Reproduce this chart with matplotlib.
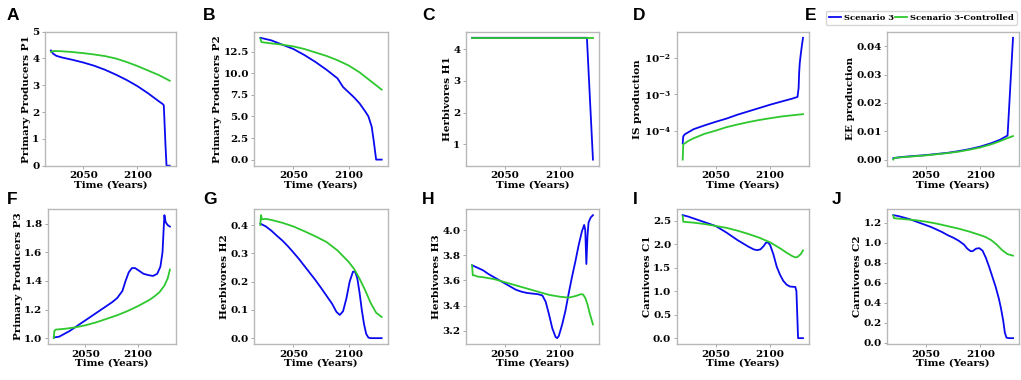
import matplotlib
matplotlib.use("Agg")
from matplotlib import pyplot as plt

plt.rcParams['font.family'] = 'DejaVu Serif'
plt.rcParams['font.weight'] = 'bold'
plt.rcParams['mathtext.fontset'] = 'dejavuserif'

# ---- data (years, values) ----
# A: Primary Producers P1
a_blue_t = [2020, 2022, 2025, 2030, 2040, 2050, 2060, 2070, 2080, 2090, 2100, 2110, 2115, 2120, 2123.5, 2124.5, 2126, 2127, 2130]
a_blue_v = [4.3, 4.18, 4.1, 4.04, 3.95, 3.85, 3.73, 3.58, 3.4, 3.2, 2.97, 2.7, 2.55, 2.4, 2.3, 2.25, 0.8, 0.0, 0.0]
a_green_t = [2020, 2023, 2030, 2040, 2050, 2060, 2070, 2080, 2090, 2100, 2110, 2120, 2130]
a_green_v = [4.25, 4.28, 4.27, 4.24, 4.2, 4.15, 4.09, 4.0, 3.87, 3.72, 3.55, 3.38, 3.17]

# B: Primary Producers P2
b_blue_t = [2020, 2030, 2040, 2050, 2060, 2070, 2080, 2090, 2095, 2100, 2105, 2110, 2115, 2118, 2121, 2123, 2125, 2130]
b_blue_v = [14.1, 13.8, 13.3, 12.8, 12.1, 11.3, 10.4, 9.4, 8.4, 7.8, 7.2, 6.5, 5.6, 5.0, 3.8, 2.0, 0.0, 0.0]
b_green_t = [2020, 2021, 2030, 2040, 2050, 2060, 2070, 2080, 2090, 2100, 2110, 2115, 2120, 2125, 2130]
b_green_v = [14.0, 13.6, 13.45, 13.3, 13.1, 12.8, 12.4, 12.0, 11.5, 10.9, 10.1, 9.6, 9.1, 8.6, 8.1]

# C: Herbivores H1
c_blue_t = [2020, 2124.5, 2130]
c_blue_v = [4.36, 4.36, 0.52]
c_green_t = [2020, 2130]
c_green_v = [4.36, 4.36]

# D: IS production (log)
d_blue_t = [2020, 2020.5, 2022, 2030, 2040, 2050, 2060, 2070, 2080, 2090, 2100, 2110, 2120, 2125, 2126, 2126.5, 2127, 2128, 2129, 2130]
d_blue_v = [4.5e-5, 7.0e-5, 8.0e-5, 1.1e-4, 1.4e-4, 1.75e-4, 2.15e-4, 2.75e-4, 3.4e-4, 4.2e-4, 5.2e-4, 6.3e-4, 7.6e-4, 8.5e-4,
            1.5e-3, 4e-3, 7e-3, 1.3e-2, 2.2e-2, 3.6e-2]
d_green_t = [2020, 2020.5, 2025, 2030, 2040, 2050, 2060, 2070, 2080, 2090, 2100, 2110, 2120, 2130]
d_green_v = [1.6e-5, 4.2e-5, 5.2e-5, 6.2e-5, 8.2e-5, 1.0e-4, 1.25e-4, 1.48e-4, 1.72e-4, 1.97e-4, 2.2e-4, 2.45e-4, 2.65e-4, 2.85e-4]

# E: EE production
e_blue_t = [2020, 2025, 2030, 2040, 2050, 2060, 2070, 2080, 2090, 2100, 2110, 2118, 2125, 2130]
e_blue_v = [0.0005, 0.0008, 0.001, 0.0013, 0.0016, 0.002, 0.0024, 0.003, 0.0037, 0.0046, 0.0058, 0.007, 0.0085, 0.043]
e_green_t = [2020, 2021, 2030, 2040, 2050, 2060, 2070, 2080, 2090, 2100, 2110, 2118, 2125, 2130]
e_green_v = [0.0, 0.0006, 0.0009, 0.0012, 0.0015, 0.0019, 0.0023, 0.0028, 0.0035, 0.0043, 0.0054, 0.0065, 0.0076, 0.0083]

# F: Primary Producers P3
f_blue_t = [2020, 2025, 2030, 2035, 2040, 2045, 2050, 2055, 2060, 2065, 2070, 2075, 2080, 2085, 2088, 2091, 2094, 2097,
            2100, 2105, 2110, 2114, 2118, 2121, 2123, 2124, 2124.8, 2126, 2128, 2130]
f_blue_v = [1.005, 1.01, 1.03, 1.05, 1.075, 1.1, 1.125, 1.15, 1.175, 1.2, 1.225, 1.25, 1.28, 1.33, 1.4, 1.46, 1.49, 1.49,
            1.475, 1.45, 1.44, 1.435, 1.45, 1.5, 1.6, 1.75, 1.86, 1.81, 1.79, 1.78]
f_green_t = [2020, 2020.5, 2022, 2030, 2040, 2050, 2060, 2070, 2080, 2090, 2100, 2110, 2115, 2120, 2125, 2128, 2130]
f_green_v = [1.0, 1.05, 1.06, 1.065, 1.075, 1.09, 1.11, 1.135, 1.16, 1.19, 1.225, 1.265, 1.29, 1.32, 1.37, 1.42, 1.48]

# G: Herbivores H2
g_blue_t = [2020, 2025, 2030, 2035, 2040, 2045, 2050, 2055, 2060, 2065, 2070, 2075, 2080, 2085, 2089, 2092, 2095, 2098,
            2101, 2104, 2106, 2108, 2110, 2112, 2114, 2116, 2118, 2120, 2130]
g_blue_v = [0.405, 0.395, 0.38, 0.362, 0.345, 0.325, 0.303, 0.28, 0.255, 0.23, 0.205, 0.178, 0.15, 0.122, 0.093, 0.082,
            0.095, 0.14, 0.2, 0.235, 0.235, 0.21, 0.16, 0.1, 0.05, 0.015, 0.002, 0.0, 0.0]
g_green_t = [2020, 2020.5, 2021.5, 2025, 2030, 2040, 2050, 2060, 2070, 2080, 2090, 2100, 2105, 2110, 2115, 2120, 2125, 2130]
g_green_v = [0.40, 0.435, 0.42, 0.422, 0.418, 0.408, 0.395, 0.378, 0.36, 0.34, 0.31, 0.27, 0.245, 0.21, 0.17, 0.125, 0.09, 0.075]

# H: Herbivores H3
h_blue_t = [2020, 2025, 2030, 2035, 2040, 2045, 2050, 2055, 2060, 2065, 2070, 2075, 2080, 2084, 2087, 2090, 2093, 2096,
            2097.5, 2099, 2102, 2105, 2108, 2111, 2114, 2117, 2120, 2122, 2123, 2124, 2125, 2126, 2128, 2130]
h_blue_v = [3.72, 3.70, 3.68, 3.65, 3.625, 3.60, 3.575, 3.55, 3.525, 3.51, 3.50, 3.495, 3.49, 3.48, 3.43, 3.33, 3.22, 3.15,
            3.141, 3.16, 3.25, 3.36, 3.50, 3.63, 3.75, 3.88, 3.99, 4.04, 4.0, 3.73, 3.95, 4.06, 4.10, 4.118]
h_green_t = [2020, 2020.7, 2022, 2025, 2030, 2040, 2050, 2060, 2070, 2080, 2090, 2100, 2108, 2114, 2119, 2121, 2123, 2125, 2127, 2130]
h_green_v = [3.72, 3.64, 3.64, 3.63, 3.625, 3.61, 3.585, 3.56, 3.535, 3.51, 3.485, 3.47, 3.463, 3.475, 3.49, 3.488, 3.46,
             3.41, 3.34, 3.25]

# I: Carnivores C1
i_blue_t = [2020, 2025, 2030, 2035, 2040, 2045, 2050, 2055, 2060, 2065, 2070, 2075, 2080, 2085, 2088, 2091, 2094, 2096,
            2098, 2100, 2103, 2106, 2109, 2112, 2115, 2118, 2123, 2124, 2125.5, 2130]
i_blue_v = [2.62, 2.59, 2.55, 2.51, 2.47, 2.43, 2.39, 2.32, 2.25, 2.17, 2.09, 2.02, 1.95, 1.89, 1.875, 1.89, 1.96, 2.03,
            2.04, 1.98, 1.78, 1.52, 1.35, 1.22, 1.14, 1.1, 1.09, 1.0, 0.0, 0.0]
i_green_t = [2020, 2020.5, 2025, 2030, 2040, 2050, 2060, 2070, 2080, 2090, 2100, 2105, 2110, 2115, 2120, 2123, 2125, 2128, 2130]
i_green_v = [2.6, 2.48, 2.47, 2.46, 2.43, 2.39, 2.35, 2.29, 2.22, 2.14, 2.04, 1.97, 1.9, 1.82, 1.75, 1.72, 1.73, 1.79, 1.87]

# J: Carnivores C2
j_blue_t = [2020, 2025, 2030, 2035, 2040, 2045, 2050, 2055, 2060, 2065, 2070, 2075, 2080, 2085, 2088, 2091, 2093, 2096,
            2099, 2102, 2105, 2108, 2111, 2114, 2117, 2119, 2121, 2122.5, 2124, 2126, 2130]
j_blue_v = [1.275, 1.265, 1.25, 1.235, 1.215, 1.195, 1.175, 1.155, 1.13, 1.105, 1.075, 1.05, 1.02, 0.98, 0.94, 0.915, 0.915,
            0.94, 0.945, 0.92, 0.85, 0.76, 0.66, 0.56, 0.44, 0.34, 0.22, 0.1, 0.05, 0.045, 0.045]
j_green_t = [2020, 2020.5, 2030, 2040, 2050, 2060, 2070, 2080, 2090, 2100, 2105, 2110, 2115, 2120, 2125, 2130]
j_green_v = [1.27, 1.245, 1.235, 1.225, 1.21, 1.19, 1.165, 1.14, 1.11, 1.075, 1.055, 1.025, 0.98, 0.925, 0.885, 0.87]

letters = ['A', 'B', 'C', 'D', 'E', 'F', 'G', 'H', 'I', 'J']
ylabels = ['Primary Producers P1', 'Primary Producers P2', 'Herbivores H1', 'IS production', 'EE production',
           'Primary Producers P3', 'Herbivores H2', 'Herbivores H3', 'Carnivores C1', 'Carnivores C2']
yticks = [[0, 1, 2, 3, 4, 5], [0, 2.5, 5, 7.5, 10, 12.5], [1, 2, 3, 4], [1e-4, 1e-3, 1e-2], [0, 0.01, 0.02, 0.03, 0.04],
          [1.0, 1.2, 1.4, 1.6, 1.8], [0, 0.1, 0.2, 0.3, 0.4], [3.2, 3.4, 3.6, 3.8, 4.0],
          [0, 0.5, 1, 1.5, 2, 2.5], [0, 0.2, 0.4, 0.6, 0.8, 1.0, 1.2]]
ytick_fmt = ['%d', '%.1f', '%d', None, '%.2f', '%.1f', '%.1f', '%.1f', '%.1f', '%.1f']
xticks = [2050, 2100]
series = [(a_blue_t, a_blue_v, a_green_t, a_green_v), (b_blue_t, b_blue_v, b_green_t, b_green_v),
          (c_blue_t, c_blue_v, c_green_t, c_green_v), (d_blue_t, d_blue_v, d_green_t, d_green_v),
          (e_blue_t, e_blue_v, e_green_t, e_green_v), (f_blue_t, f_blue_v, f_green_t, f_green_v),
          (g_blue_t, g_blue_v, g_green_t, g_green_v), (h_blue_t, h_blue_v, h_green_t, h_green_v),
          (i_blue_t, i_blue_v, i_green_t, i_green_v), (j_blue_t, j_blue_v, j_green_t, j_green_v)]

W, H = 1021, 380
# axes boxes in pixels: left, right, top, bottom
boxes = [(45, 175.7, 31.7, 165.7), (254.3, 387.7, 31.7, 165.7), (466, 599, 31.7, 165.7),
         (676.7, 809, 31.7, 165.7), (887.3, 1019, 31.7, 165.7),
         (48, 175.7, 209, 344.3), (254.3, 387.7, 209, 344.3), (466, 599, 209, 344.3),
         (676.7, 809, 209, 344.3), (887.3, 1019, 209, 344.3)]
letter_pos = [(7, 20), (203, 20), (422, 20), (633, 20), (805, 20),
              (7, 203.5), (203, 203.5), (422, 203.5), (633, 203.5), (832, 203.5)]

BLUE = '#0a0af0'
GREEN = '#2ec82e'

fig = plt.figure(figsize=(W / 100, H / 100), dpi=100)

for k in range(10):
    l, r, t, b = boxes[k]
    ax = fig.add_axes([l / W, 1 - b / H, (r - l) / W, (b - t) / H])
    bt, bv, gt, gv = series[k]
    lb, = ax.plot(bt, bv, color=BLUE, lw=1.3, label='Scenario 3')
    lg, = ax.plot(gt, gv, color=GREEN, lw=1.3, label='Scenario 3-Controlled')
    if k == 3:
        ax.set_yscale('log')
        ax.minorticks_off()
        ax.set_yticks(yticks[k])
        ax.set_yticklabels([r'$\mathbf{10^{-4}}$', r'$\mathbf{10^{-3}}$', r'$\mathbf{10^{-2}}$'])
    else:
        ax.set_yticks(yticks[k])
        ax.set_yticklabels([ytick_fmt[k] % v for v in yticks[k]])
    if k == 0:
        ax.set_ylim(0, 5)
    ax.set_xticks(xticks)
    ax.set_xticklabels([str(x) for x in xticks])
    ax.tick_params(labelsize=7.5, length=2.5, width=0.6, color='#999999', pad=1.5)
    ax.set_xlabel('Time (Years)', fontsize=7.5, fontweight='bold', labelpad=0)
    ax.set_ylabel(ylabels[k], fontsize=7.5, fontweight='bold', labelpad=1)
    for s in ax.spines.values():
        s.set_color('#b8b8b8')
        s.set_linewidth(1.0)
    fig.text(letter_pos[k][0] / W, 1 - letter_pos[k][1] / H, letters[k],
             family='Liberation Sans', fontweight='bold', fontsize=12.5, va='baseline')

fig.legend(handles=[lb, lg], loc='upper right', bbox_to_anchor=(1017 / W, 1 - 11 / H), ncol=2,
           prop={'weight': 'bold', 'size': 6.0}, handlelength=1.5, handletextpad=0.35,
           columnspacing=0.1, borderpad=0.35, borderaxespad=0, frameon=True, fancybox=True,
           edgecolor='#cccccc')

fig.savefig('out.png', dpi=100)
